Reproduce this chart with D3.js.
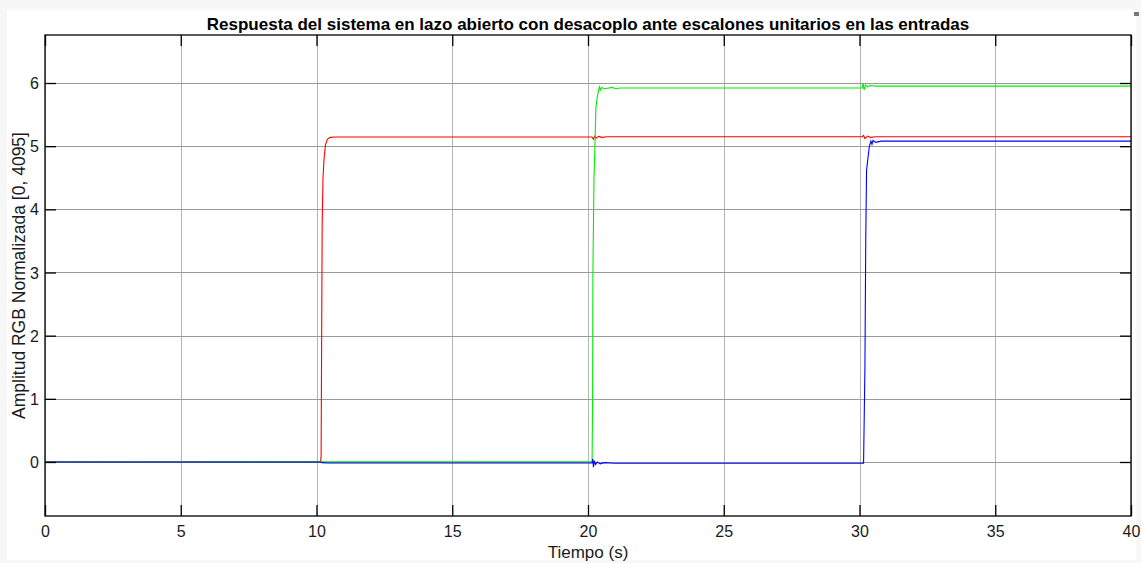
<!DOCTYPE html>
<html>
<head>
<meta charset="utf-8">
<script src="https://cdn.jsdelivr.net/npm/d3@7"></script>
<style>
  body { margin: 0; background: #f7f7f7; }
  svg { display: block; font-family: "Liberation Sans", Arial, sans-serif; }
</style>
</head>
<body>
<div id="chart"></div>
<script>
// señales: [tiempo (s), amplitud]
var redSeries = [[0,0],[10.15,0],[10.17,0.1],[10.19,2.0],[10.21,3.8],[10.24,4.5],[10.28,4.81],[10.33,5.02],[10.4,5.11],[10.5,5.14],[10.7,5.145],
  [20.15,5.145],[20.2,5.11],[20.25,5.16],[20.3,5.13],[20.4,5.155],[20.5,5.14],[20.7,5.15],
  [30.1,5.15],[30.15,5.17],[30.2,5.12],[30.3,5.16],[30.4,5.14],[30.6,5.15],[40,5.15]]
var greenSeries = [[0,0],[20.15,0.005],[20.17,1.0],[20.18,2.96],[20.22,4.5],[20.26,5.07],[20.29,5.6],[20.34,5.78],[20.38,5.86],[20.42,5.94],[20.46,5.89],[20.5,5.93],[20.6,5.91],[20.9,5.93],[21.0,5.91],[21.2,5.92],
  [30.1,5.92],[30.13,6.0],[30.17,5.89],[30.22,5.97],[30.3,5.94],[30.4,5.96],[30.6,5.95],[40,5.95]]
var blueSeries = [[0,0],[10.15,0],[10.2,-0.01],[10.4,-0.015],
  [20.15,-0.015],[20.18,0.05],[20.2,-0.08],[20.24,0.02],[20.28,-0.04],[20.35,0.0],[20.45,-0.03],[20.6,-0.01],[21.0,-0.02],
  [30.12,-0.02],[30.15,-0.02],[30.2,1.5],[30.23,3.5],[30.26,4.62],[30.36,4.99],[30.42,5.08],[30.46,5.03],[30.5,5.09],[30.6,5.06],[30.8,5.08],[40,5.08]]

var xTicks = [0, 5, 10, 15, 20, 25, 30, 35, 40]
var yTicks = [0, 1, 2, 3, 4, 5, 6]
var xDomain = [0, 40]
var yDomain = [-0.855, 6.76]

var titleText = "Respuesta del sistema en lazo abierto con desacoplo ante escalones unitarios en las entradas"
var xLabel = "Tiempo (s)"
var yLabel = "Amplitud RGB Normalizada [0, 4095]"

var width = 1141, height = 563
var dimensions = {
  margin: { top: 35, right: 10, bottom: 47, left: 45 }
}
dimensions.boundedWidth = width - dimensions.margin.left - dimensions.margin.right
dimensions.boundedHeight = height - dimensions.margin.top - dimensions.margin.bottom

var svg = d3.select("#chart").append("svg")
  .attr("width", width)
  .attr("height", height)

// panel blanco de la figura
svg.append("rect")
  .attr("x", 7).attr("y", 10)
  .attr("width", 1129).attr("height", 550)
  .attr("fill", "white")

svg.append("rect")
  .attr("x", 1134).attr("y", 12)
  .attr("width", 5).attr("height", 4)
  .attr("fill", "#777")

var bounds = svg.append("g")
  .attr("transform", `translate(${dimensions.margin.left},${dimensions.margin.top})`)

var xScale = d3.scaleLinear().domain(xDomain).range([0, dimensions.boundedWidth])
var yScale = d3.scaleLinear().domain(yDomain).range([dimensions.boundedHeight, 0])

// rejilla
bounds.selectAll(".xgrid").data(xTicks).enter().append("line")
  .attr("x1", d => Math.round(xScale(d)) + 0.5).attr("x2", d => Math.round(xScale(d)) + 0.5)
  .attr("y1", 0).attr("y2", dimensions.boundedHeight)
  .attr("stroke", "#b4b4b4").attr("stroke-width", 1)
bounds.selectAll(".ygrid").data(yTicks).enter().append("line")
  .attr("y1", d => Math.round(yScale(d)) + 0.5).attr("y2", d => Math.round(yScale(d)) + 0.5)
  .attr("x1", 0).attr("x2", dimensions.boundedWidth)
  .attr("stroke", "#9a9a9a").attr("stroke-width", 1)

var lineGen = d3.line()
  .x(d => xScale(d[0]))
  .y(d => yScale(d[1]))

var seriesList = [
  { data: redSeries, color: "#ff0000" },
  { data: greenSeries, color: "#00ee00" },
  { data: blueSeries, color: "#0000ff" }
]
bounds.selectAll(".serie").data(seriesList).enter().append("path")
  .attr("class", "serie")
  .attr("d", d => lineGen(d.data))
  .attr("fill", "none")
  .attr("stroke", d => d.color)
  .attr("stroke-width", 1.1)

// ejes estilo matlab, ticks hacia dentro en los cuatro lados
var tickLen = 11
var xAxisGenerator = d3.axisBottom(xScale).tickValues(xTicks).tickSizeInner(-tickLen).tickSizeOuter(0).tickPadding(10)
var yAxisGenerator = d3.axisLeft(yScale).tickValues(yTicks).tickSizeInner(-tickLen).tickSizeOuter(0).tickPadding(6)

var xAxis = bounds.append("g")
  .attr("transform", `translate(0,${dimensions.boundedHeight})`)
  .call(xAxisGenerator)
var yAxis = bounds.append("g").call(yAxisGenerator)
var xAxisTop = bounds.append("g")
  .call(d3.axisTop(xScale).tickValues(xTicks).tickSizeInner(-tickLen).tickSizeOuter(0).tickFormat(""))
var yAxisRight = bounds.append("g")
  .attr("transform", `translate(${dimensions.boundedWidth},0)`)
  .call(d3.axisRight(yScale).tickValues(yTicks).tickSizeInner(-tickLen).tickSizeOuter(0).tickFormat(""))

;[xAxis, yAxis, xAxisTop, yAxisRight].forEach(function(ax) {
  ax.attr("font-size", null).attr("font-family", null)
  ax.select(".domain").remove()
  ax.selectAll("line").attr("stroke", "#000").attr("stroke-width", 1.3)
  ax.selectAll("text")
    .attr("fill", "#1a1a1a")
    .style("font-size", "16px")
    .style("font-family", "\"Liberation Sans\", Arial, sans-serif")
})
yAxis.selectAll("text").attr("dy", "0.35em")

// marco
bounds.append("rect")
  .attr("x", 0).attr("y", 0)
  .attr("width", dimensions.boundedWidth).attr("height", dimensions.boundedHeight)
  .attr("fill", "none").attr("stroke", "#000").attr("stroke-width", 1.3)

svg.append("text")
  .attr("x", dimensions.margin.left + dimensions.boundedWidth / 2)
  .attr("y", 30)
  .attr("text-anchor", "middle")
  .style("font-size", "17px").attr("font-weight", "bold")
  .attr("fill", "#000")
  .text(titleText)

svg.append("text")
  .attr("x", dimensions.margin.left + dimensions.boundedWidth / 2)
  .attr("y", 558)
  .attr("text-anchor", "middle")
  .style("font-size", "17px").attr("fill", "#1a1a1a")
  .text(xLabel)

svg.append("text")
  .attr("transform", `translate(25,${dimensions.margin.top + dimensions.boundedHeight / 2}) rotate(-90)`)
  .attr("text-anchor", "middle")
  .style("font-size", "17.5px").attr("fill", "#1a1a1a")
  .text(yLabel)
</script>
</body>
</html>
